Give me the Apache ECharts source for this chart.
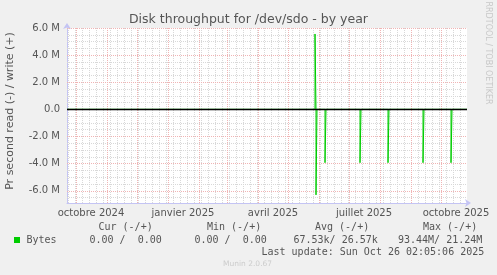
<!DOCTYPE html>
<html><head><meta charset="utf-8">
<script src="https://cdn.jsdelivr.net/npm/echarts@6/dist/echarts.min.js"></script>
<style>html,body{margin:0;padding:0;background:#f0f0f0;}#c{width:497px;height:275px;}</style>
</head><body><div id="c"></div>
<script>
// ---- data ----
const yTickValues = [-6e6, -4e6, -2e6, 0, 2e6, 4e6, 6e6];
const xLabelDates = ['2024-10-16', '2025-01-16', '2025-04-16', '2025-07-16', '2025-10-16'];
const xLabelTexts = ['octobre 2024', 'janvier 2025', 'avril 2025', 'juillet 2025', 'octobre 2025'];
const writeDates = ['2024-09-22', '2025-05-28', '2025-05-29', '2025-10-27'];
const writeValues = [0, 5.56e6, 0, 0];
const readDates = ['2024-09-22', '2025-05-29', '2025-05-30', '2025-06-07', '2025-06-08', '2025-07-12', '2025-07-13',
                   '2025-08-09', '2025-08-10', '2025-09-13', '2025-09-14', '2025-10-11', '2025-10-12', '2025-10-27'];
const readValues = [0, -6.30e6, 0, -3.93e6, 0, -3.93e6, 0, -3.93e6, 0, -3.93e6, 0, -3.93e6, 0, 0];
const legendHeaders = ['Cur (-/+)', 'Min (-/+)', 'Avg (-/+)', 'Max (-/+)'];
const legendValues = ['0.00 /  0.00', '0.00 /  0.00', '67.53k/ 26.57k', '93.44M/ 21.24M'];
const seriesName = 'Bytes';
const lastUpdate = 'Last update: Sun Oct 26 02:05:06 2025';

// ---- helpers ----
const DAY = 86400000;
function ts(s) { const p = s.split('-').map(Number); return Date.UTC(p[0], p[1] - 1, p[2]); }
const xMin = ts('2024-09-22');
const xMax = xMin + 400 * DAY;
const yMin = -6.9e6, yMax = 6e6;
const HALF = DAY / 2; // half-pixel shift for crisp vertical grid lines

const monthStarts = [];
for (let i = 0; i < 13; i++) monthStarts.push(Date.UTC(2024, 9 + i, 1) + HALF);
const weekLines = [];
for (let t = ts('2024-09-23'); t < xMax; t += 7 * DAY) weekLines.push(t + HALF);
const minorH = [], majorH = [];
for (let v = -6.5e6; v <= 6e6 + 1; v += 0.5e6) {
  if (Math.abs(v % 2e6) < 1) { if (Math.abs(v) > 1) majorH.push(v); } else minorH.push(v);
}

const minorStyle = { color: '#d8d8d8', width: 1, type: [1, 1] };
const majorStyle = { color: '#f0b4b4', width: 1, type: [1, 1] };

const chart = echarts.init(document.getElementById('c'), null, { renderer: 'canvas' });
const mono = 'DejaVu Sans Mono';
const sans = 'DejaVu Sans';
const legendX = [98.5, 207, 315, 423];
const valueX = [89.5, 194.5, 293.5, 398];

const graphics = [
  { type: 'text', x: 248.5, y: 20, style: { text: 'Disk throughput for /dev/sdo - by year', font: '12.5px "' + sans + '"', fill: '#555', align: 'center', verticalAlign: 'middle' } },
  { type: 'text', x: 10, y: 111, rotation: Math.PI / 2, style: { text: 'Pr second read (-) / write (+)', font: '11px "' + sans + '"', fill: '#555', align: 'center', verticalAlign: 'middle' } },
  { type: 'text', x: 488, y: 53, rotation: -Math.PI / 2, style: { text: 'RRDTOOL / TOBI OETIKER', font: '8px "' + sans + '"', fill: '#c8c8c8', align: 'center', verticalAlign: 'middle' } },
  { type: 'rect', shape: { x: 14, y: 237, width: 6, height: 6 }, style: { fill: '#00cc00' } },
  { type: 'text', x: 26.5, y: 240, style: { text: seriesName, font: '10px "' + mono + '"', fill: '#555', verticalAlign: 'middle' } },
  { type: 'text', x: 261.5, y: 252.5, style: { text: lastUpdate, font: '10px "' + mono + '"', fill: '#555', verticalAlign: 'middle' } },
  { type: 'text', x: 223, y: 264, style: { text: 'Munin 2.0.67', font: '7.5px "' + sans + '"', fill: '#cccccc', verticalAlign: 'middle' } }
];
legendHeaders.forEach((h, i) => graphics.push({ type: 'text', x: legendX[i], y: 227.5, style: { text: h, font: '10px "' + mono + '"', fill: '#555', verticalAlign: 'middle' } }));
legendValues.forEach((h, i) => graphics.push({ type: 'text', x: valueX[i], y: 240, style: { text: h, font: '10px "' + mono + '"', fill: '#555', verticalAlign: 'middle' } }));

function vLines(list, style) { return list.map(t => ({ xAxis: t, lineStyle: style })); }
function hLines(list, style) { return list.map(v => ({ yAxis: v, lineStyle: style })); }

chart.setOption({
  animation: false,
  backgroundColor: '#f0f0f0',
  grid: { left: 67, top: 28, width: 400, height: 175, backgroundColor: '#ffffff', show: true, borderWidth: 0 },
  xAxis: {
    type: 'value', min: xMin, max: xMax,
    axisLine: { show: true, onZero: false, lineStyle: { color: '#c4c4f4', width: 1 }, symbol: ['none', 'arrow'], symbolSize: [6, 6], symbolOffset: [0, 4] },
    axisTick: { show: false },
    splitLine: { show: false },
    axisLabel: {
      customValues: xLabelDates.map(ts),
      formatter: v => xLabelTexts[xLabelDates.map(ts).indexOf(v)] || '',
      color: '#555', fontFamily: sans, fontSize: 10, margin: 5
    }
  },
  yAxis: {
    type: 'value', min: yMin, max: yMax,
    axisLine: { show: true, onZero: false, lineStyle: { color: '#c4c4f4', width: 1 }, symbol: ['none', 'arrow'], symbolSize: [6, 6], symbolOffset: [0, 5] },
    axisTick: { show: false },
    splitLine: { show: false },
    axisLabel: {
      customValues: yTickValues,
      formatter: v => v === 0 ? '0.0' : (v / 1e6).toFixed(1) + ' M',
      color: '#555', fontFamily: sans, fontSize: 10, margin: 7
    }
  },
  graphic: graphics,
  series: [
    { type: 'line', z: 1, data: [], silent: true,
      markLine: { z: 1, silent: true, symbol: 'none', label: { show: false }, data: vLines(weekLines, minorStyle).concat(hLines(minorH, minorStyle)) } },
    { type: 'line', z: 2, data: [], silent: true,
      markLine: { z: 2, silent: true, symbol: 'none', label: { show: false }, data: vLines(monthStarts, majorStyle).concat(hLines(majorH, majorStyle)) } },
    { type: 'line', name: 'write', z: 5, step: 'end', showSymbol: false, symbol: 'none',
      lineStyle: { color: '#00cc00', width: 1 },
      data: writeDates.map((d, i) => [ts(d), writeValues[i]]) },
    { type: 'line', name: 'read', z: 5, step: 'end', showSymbol: false, symbol: 'none',
      lineStyle: { color: '#00cc00', width: 1 },
      data: readDates.map((d, i) => [ts(d), readValues[i]]) },
    { type: 'line', z: 10, data: [], silent: true,
      markLine: { z: 20, silent: true, symbol: 'none', label: { show: false }, data: [{ yAxis: 0.001, lineStyle: { color: '#000000', width: 1.4, type: 'solid' } }] } }
  ]
});
</script></body></html>
